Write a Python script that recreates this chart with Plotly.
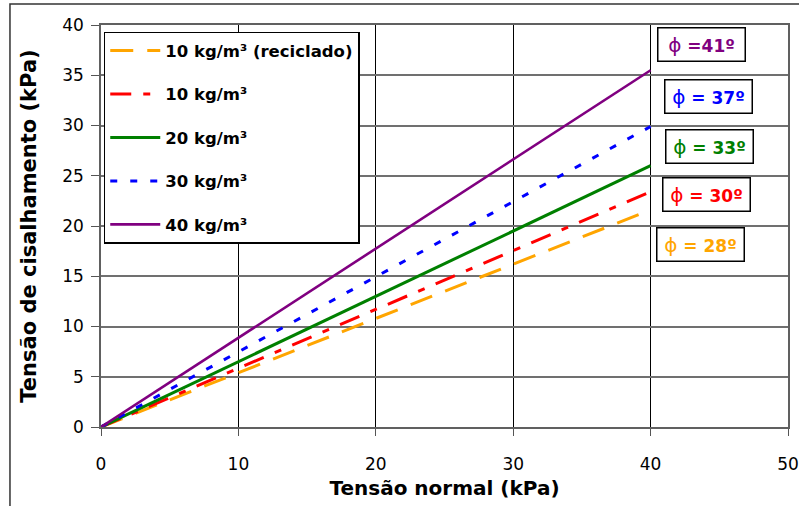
import plotly.graph_objects as go

# Data
normal_stress = [0, 40]
series_names = ["10 kg/m³ (reciclado)", "10 kg/m³", "20 kg/m³", "30 kg/m³", "40 kg/m³"]
shear_10_recic = [0, 21.6]
shear_10 = [0, 23.4]
shear_20 = [0, 26.0]
shear_30 = [0, 29.9]
shear_40 = [0, 35.5]
series_values = [shear_10_recic, shear_10, shear_20, shear_30, shear_40]
series_colors = ["#FFA500", "#FF0000", "#008000", "#0000FF", "#800080"]
series_dash = ["23px,14px", "21px,12px,7px,12px", "solid", "7px,13px", "solid"]
series_width = [3, 3, 3, 3, 2.6]

angle_symbol = "ϕ"
angle_values = [" =41º", " = 37º", " = 33º", " = 30º", " = 28º"]
angle_colors = ["#800080", "#0000FF", "#008000", "#FF0000", "#FFA500"]
angle_label_x = [43.7, 44.2, 44.25, 44.1, 43.65]
angle_label_y = [38.1, 32.85, 27.95, 23.1, 18.2]

x_ticks = [0, 10, 20, 30, 40, 50]
y_ticks = [0, 5, 10, 15, 20, 25, 30, 35, 40]

FONT = "DejaVu Sans, Liberation Sans, Arial, sans-serif"

fig = go.Figure()
for i, (name, vals) in enumerate(zip(series_names, series_values)):
    fig.add_trace(go.Scatter(
        x=normal_stress, y=vals, mode="lines", name=name,
        legendgroup=f"g{i}",
        line=dict(color=series_colors[i], dash=series_dash[i], width=series_width[i]),
    ))

for txt, col, ax_, ay_ in zip(angle_values, angle_colors, angle_label_x, angle_label_y):
    fig.add_annotation(
        x=ax_, y=ay_, xref="x", yref="y",
        text=f"<span style='font-size:20px'>{angle_symbol}</span><b>{txt}</b>", showarrow=False,
        font=dict(family=FONT, size=17, color=col),
        bordercolor="#000000", borderwidth=1.5, bgcolor="white",
        width=82, height=28, borderpad=2, align="center",
    )

# outer frame
fig.add_shape(type="rect", xref="paper", yref="paper",
              x0=-0.1325, x1=1.04, y0=-0.25, y1=1.0522,
              line=dict(color="#333333", width=1.5), layer="below")

fig.update_layout(
    width=799, height=506,
    margin=dict(l=101, r=11, t=25, b=79, autoexpand=False),
    paper_bgcolor="white", plot_bgcolor="white",
    font=dict(family=FONT, color="#000000"),
    showlegend=True,
    legend=dict(
        x=0.004, y=0.983, xanchor="left", yanchor="top",
        bordercolor="#000000", borderwidth=1.5, bgcolor="white",
        font=dict(family=FONT, size=16.5, color="#000000", weight="bold"),
        tracegroupgap=19, itemwidth=50,
    ),
    xaxis=dict(
        range=[0, 50], tickvals=x_ticks, ticks="outside", ticklen=7,
        tickcolor="#555555", showgrid=True, gridcolor="#000000", gridwidth=1,
        showline=True, linecolor="#606060", linewidth=1.5, mirror=True,
        zeroline=False, tickfont=dict(size=17, family=FONT),
        ticklabelstandoff=14, automargin=False,
        title=dict(text="<b>Tensão normal (kPa)</b>", font=dict(size=20, family=FONT), standoff=8),
    ),
    yaxis=dict(
        range=[0, 40], tickvals=y_ticks, ticks="outside", ticklen=8,
        tickcolor="#555555", showgrid=True, gridcolor="#707070", gridwidth=1.5,
        showline=True, linecolor="#606060", linewidth=1.5, mirror=True,
        zeroline=False, tickfont=dict(size=17, family=FONT),
        ticklabelstandoff=4, automargin=False,
        title=dict(text="<b>Tensão de cisalhamento (kPa)</b>", font=dict(size=21, family=FONT), standoff=20),
    ),
)

fig.write_html("out.html")
